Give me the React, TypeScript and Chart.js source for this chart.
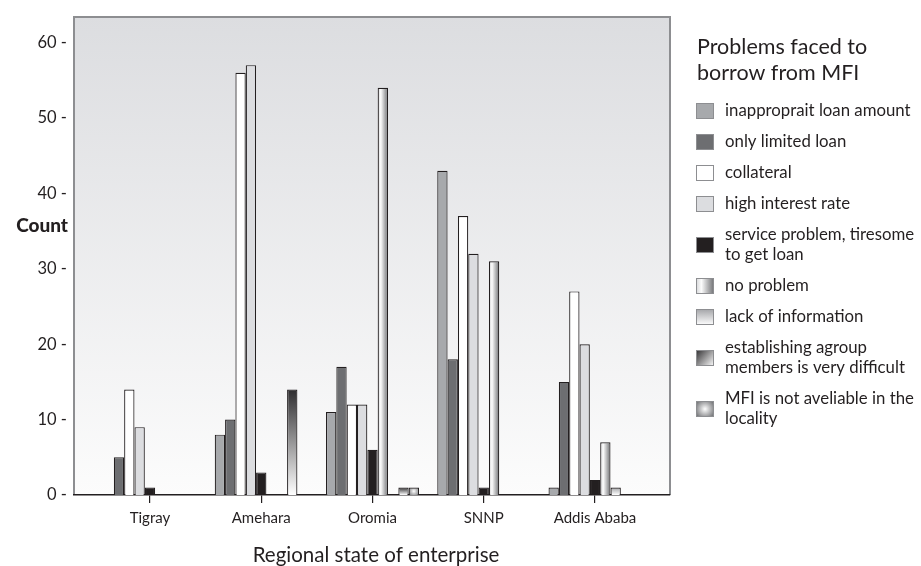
import { useEffect, useRef } from "react";
import { Chart, registerables } from "chart.js";

Chart.register(...registerables);

// Regions on the x axis
const regions = ["Tigray", "Amehara", "Oromia", "SNNP", "Addis Ababa"];

// Problem categories (legend order = bar order inside each region)
const problemLabels = [
  "inapproprait loan amount",
  "only limited loan",
  "collateral",
  "high interest rate",
  "service problem, tiresome\nto get loan",
  "no problem",
  "lack of information",
  "establishing agroup\nmembers is very difficult",
  "MFI is not aveliable in the\nlocality",
];

// Counts per region (Tigray, Amehara, Oromia, SNNP, Addis Ababa)
const inappropriateLoan = [0, 8, 11, 43, 1];
const limitedLoan = [5, 10, 17, 18, 15];
const collateral = [14, 56, 12, 37, 27];
const highInterest = [9, 57, 12, 32, 20];
const serviceProblem = [1, 3, 6, 1, 2];
const noProblem = [0, 0, 54, 31, 7];
const lackOfInformation = [0, 0, 0, 0, 1];
const establishingGroup = [0, 14, 1, 0, 0];
const mfiNotAvailable = [0, 0, 1, 0, 0];

const yTicks = [0, 10, 20, 30, 40, 50, 60];

const seriesValues = [
  inappropriateLoan,
  limitedLoan,
  collateral,
  highInterest,
  serviceProblem,
  noProblem,
  lackOfInformation,
  establishingGroup,
  mfiNotAvailable,
];

// Fill style per series: plain colours or a named gradient
const seriesFills = [
  "#a7a9ac",
  "#6d6e71",
  "#ffffff",
  "#dcdde0",
  "#231f20",
  "grad:horizontal",
  "grad:fade",
  "grad:dark",
  "grad:radial",
];

const FONT = "Lato, 'Open Sans', sans-serif";
const INK = "#231f20";

function makeFill(
  ctx: CanvasRenderingContext2D,
  kind: string,
  left: number,
  top: number,
  right: number,
  bottom: number,
  icon: boolean
): string | CanvasGradient {
  if (!kind.startsWith("grad:")) return kind;
  const w = Math.max(right - left, 1);
  const h = Math.max(bottom - top, 1);
  if (kind === "grad:horizontal") {
    const g = ctx.createLinearGradient(left, 0, right, 0);
    g.addColorStop(0, "#d4d5d7");
    g.addColorStop(0.3, "#fcfcfc");
    g.addColorStop(1, "#6f7073");
    return g;
  }
  if (kind === "grad:fade") {
    const g = ctx.createLinearGradient(0, top, 0, bottom);
    g.addColorStop(0, "#a3a4a7");
    g.addColorStop(1, "#ffffff");
    return g;
  }
  if (kind === "grad:dark") {
    const g = icon
      ? ctx.createLinearGradient(left, top, right, bottom)
      : ctx.createLinearGradient(0, top, 0, bottom);
    g.addColorStop(0, "#2e2d2f");
    g.addColorStop(1, "#ffffff");
    return g;
  }
  const cx = left + w / 2;
  const cy = top + h / 2;
  const g = ctx.createRadialGradient(cx, cy, 0, cx, cy, Math.max(w, h) / 1.6);
  g.addColorStop(0, "#ffffff");
  g.addColorStop(1, "#6a6b6e");
  return g;
}

// Plot frame with a vertical grey wash behind the bars
const framePlugin = {
  id: "frame",
  beforeDraw(chart: any) {
    const { ctx, chartArea: a } = chart;
    ctx.save();
    const g = ctx.createLinearGradient(0, a.top, 0, a.bottom);
    g.addColorStop(0, "#dcdde0");
    g.addColorStop(1, "#fcfcfc");
    ctx.fillStyle = g;
    ctx.fillRect(a.left, a.top, a.right - a.left, a.bottom - a.top);
    ctx.strokeStyle = "#8d8e91";
    ctx.lineWidth = 2;
    ctx.beginPath();
    ctx.moveTo(a.left, a.bottom);
    ctx.lineTo(a.left, a.top);
    ctx.lineTo(a.right, a.top);
    ctx.lineTo(a.right, a.bottom);
    ctx.stroke();
    ctx.restore();
  },
};

// Per-bar gradients for the shaded series
const gradientPlugin = {
  id: "barGradients",
  beforeDatasetDraw(chart: any, args: any) {
    const kind = seriesFills[args.index];
    if (!kind.startsWith("grad:")) return;
    const { ctx } = chart;
    args.meta.data.forEach((el: any) => {
      const left = el.x - el.width / 2;
      const right = el.x + el.width / 2;
      const top = Math.min(el.y, el.base);
      const bottom = Math.max(el.y, el.base);
      el.options = {
        ...el.options,
        backgroundColor: makeFill(ctx, kind, left, top, right, bottom, false),
      };
    });
  },
};

// Axis captions and the legend panel
const textPlugin = {
  id: "captions",
  afterDraw(chart: any) {
    const { ctx, chartArea: a } = chart;
    ctx.save();
    ctx.fillStyle = INK;

    ctx.font = `900 19px ${FONT}`;
    ctx.textAlign = "right";
    ctx.textBaseline = "middle";
    ctx.fillText("Count", 68, 226);

    ctx.font = `20.5px ${FONT}`;
    ctx.textAlign = "center";
    ctx.textBaseline = "alphabetic";
    ctx.fillText("Regional state of enterprise", (a.left + a.right) / 2 + 4, a.bottom + 67);

    const lx = 697;
    ctx.textAlign = "left";
    ctx.textBaseline = "middle";
    ctx.font = `21.5px ${FONT}`;
    ctx.fillText("Problems faced to", lx, 47);
    ctx.fillText("borrow from MFI", lx, 73);

    ctx.font = `16.8px ${FONT}`;
    let y = 111;
    problemLabels.forEach((label, i) => {
      const lines = label.split("\n");
      const boxC = y + (lines.length - 1) * 10;
      const bx = 696;
      const by = boxC - 8;
      const bw = 18;
      const bh = 16;
      ctx.fillStyle = makeFill(ctx, seriesFills[i], bx, by, bx + bw, by + bh, true);
      ctx.fillRect(bx, by, bw, bh);
      ctx.strokeStyle = "#8d8e91";
      ctx.lineWidth = 1;
      ctx.strokeRect(bx + 0.5, by + 0.5, bw - 1, bh - 1);
      ctx.fillStyle = INK;
      lines.forEach((ln, k) => ctx.fillText(ln, 725, y + k * 20));
      y += (lines.length - 1) * 20 + 31;
    });
    ctx.restore();
  },
};

export default function App() {
  const canvasRef = useRef<HTMLCanvasElement | null>(null);

  useEffect(() => {
    if (!canvasRef.current) return;
    const chart = new Chart(canvasRef.current, {
      type: "bar",
      data: {
        datasets: seriesValues.map((vals, i) => ({
          label: problemLabels[i].replace("\n", " "),
          data: vals.map((v, j) => ({ x: j, y: v })),
          backgroundColor: seriesFills[i].startsWith("grad:") ? "#cccccc" : seriesFills[i],
          borderColor: INK,
          borderWidth: 1.2,
          categoryPercentage: 0.836,
          barPercentage: 1,
        })),
      },
      options: {
        animation: false,
        responsive: false,
        layout: { padding: { left: 0, top: 8, right: 251, bottom: 0 } },
        plugins: { legend: { display: false }, tooltip: { enabled: false } },
        scales: {
          x: {
            type: "linear",
            min: -0.683,
            max: 4.674,
            offset: false,
            afterBuildTicks: (scale: any) => {
              scale.ticks = regions.map((_, i) => ({ value: i }));
            },
            afterFit: (scale: any) => {
              scale.height = 71;
            },
            grid: {
              display: true,
              offset: false,
              drawOnChartArea: false,
              drawTicks: true,
              tickLength: 8,
              color: INK,
              lineWidth: 1.2,
            },
            border: { display: true, color: INK, width: 1.6 },
            ticks: {
              autoSkip: false,
              maxRotation: 0,
              padding: 6,
              color: INK,
              font: { family: FONT, size: 15 },
              callback: (v: any) => regions[Math.round(Number(v))] ?? "",
            },
          },
          y: {
            type: "linear",
            min: 0,
            max: 63.4,
            afterBuildTicks: (scale: any) => {
              scale.ticks = yTicks.map((v) => ({ value: v }));
            },
            afterFit: (scale: any) => {
              scale.width = 74;
            },
            grid: { display: false, drawTicks: false },
            border: { display: false },
            ticks: {
              padding: 7,
              color: INK,
              font: { family: FONT, size: 16.5 },
              callback: (v: any) => `${v} -`,
            },
          },
        },
      } as any,
      plugins: [framePlugin, gradientPlugin, textPlugin],
    });
    return () => chart.destroy();
  }, []);

  return (
    <div style={{ position: "fixed", left: 0, top: 0, width: 921, height: 566, background: "#ffffff" }}>
      <canvas ref={canvasRef} width={921} height={566} />
    </div>
  );
}
